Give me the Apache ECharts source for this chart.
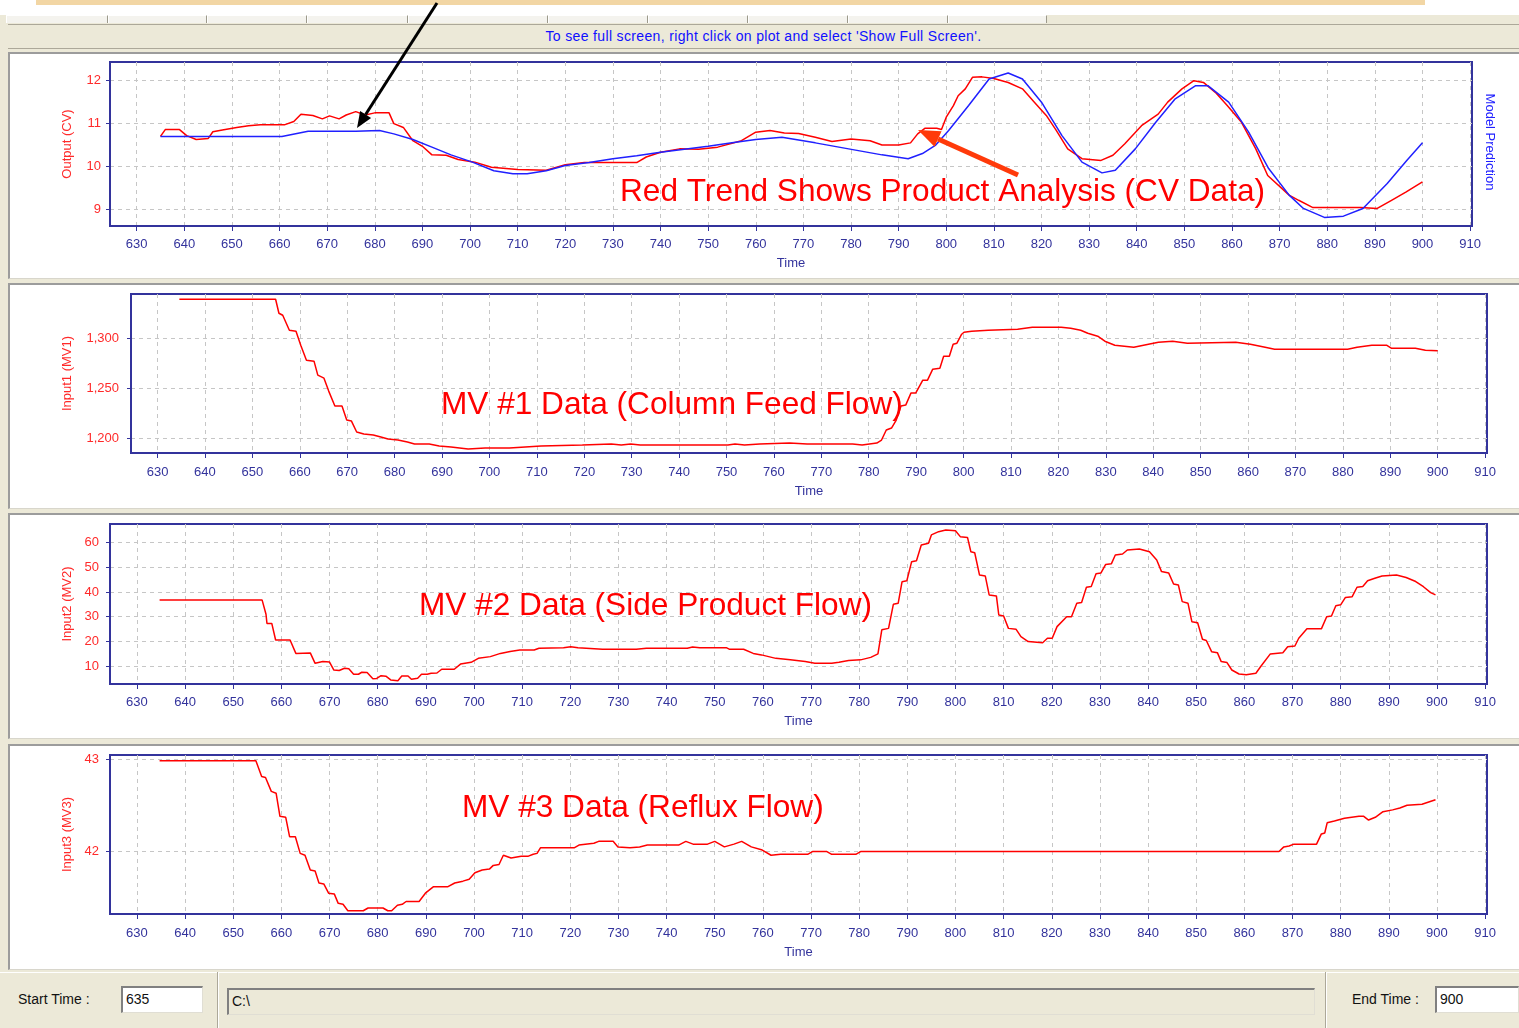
<!DOCTYPE html>
<html>
<head>
<meta charset="utf-8">
<title>Column trends</title>
<script src="https://cdn.jsdelivr.net/npm/echarts@6/dist/echarts.min.js"></script>
<style>
html, body { margin: 0; padding: 0; width: 1519px; height: 1028px; overflow: hidden; background: #ece9d8; font-family: "Liberation Sans", Arial, sans-serif; }
.abs { position: absolute; box-sizing: border-box; }
#topWhite { left: 0; top: 0; width: 1519px; height: 15px; background: #fff; }
#tanBar { left: 36px; top: 0; width: 1389px; height: 5px; background: #f2d6a4; }
.tab { top: 15px; height: 8px; background: #f4f3ee; border-left: 1px solid #fff; border-right: 1px solid #9c9a8c; border-top: 1px solid #fff; }
#status { left: 8px; top: 24px; width: 1511px; height: 25px; border-top: 1px solid #aca899; border-bottom: 1px solid #aca899; color: #1010ff; font-size: 14px; letter-spacing: 0.35px; line-height: 23px; text-align: center; padding-left: 0; }
.panel { left: 8px; width: 1511px; background: #fff; border-left: 2px solid #9c9c9c; border-top: 2px solid #9c9c9c; border-bottom: 1px solid #d8d6cc; }
#bottom { left: 0; top: 972px; width: 1519px; height: 56px; border-top: 1px solid #fff; }
.lbl { font-size: 14px; color: #111; }
.box { background: #fff; border-top: 2px solid #808080; border-left: 2px solid #808080; border-bottom: 1px solid #e0ded4; border-right: 1px solid #e0ded4; font-size: 14px; line-height: 22px; padding-left: 3px; color: #111; }
.sep { top: 972px; width: 2px; height: 56px; border-left: 1px solid #aca899; border-right: 1px solid #fff; }
#chart { left: 0; top: 0; width: 1519px; height: 1028px; }
</style>
</head>
<body>
<div class="abs" id="topWhite"></div>
<div class="abs" id="tanBar"></div>
<div class="abs tab" style="left:6px;width:102px"></div>
<div class="abs tab" style="left:108px;width:99px"></div>
<div class="abs tab" style="left:207px;width:100px"></div>
<div class="abs tab" style="left:307px;width:101px"></div>
<div class="abs tab" style="left:408px;width:140px"></div>
<div class="abs tab" style="left:548px;width:100px"></div>
<div class="abs tab" style="left:648px;width:100px"></div>
<div class="abs tab" style="left:748px;width:100px"></div>
<div class="abs tab" style="left:848px;width:100px"></div>
<div class="abs tab" style="left:948px;width:99px"></div>
<div class="abs" id="status">To see full screen, right click on plot and select 'Show Full Screen'.</div>
<div class="abs panel" style="top:52px;height:227px"></div>
<div class="abs panel" style="top:283px;height:226px"></div>
<div class="abs panel" style="top:513px;height:226px"></div>
<div class="abs panel" style="top:744px;height:226px"></div>
<div class="abs" id="bottom"></div>
<div class="abs lbl" style="left:18px;top:991px">Start Time :</div>
<div class="abs box" style="left:121px;top:986px;width:82px;height:27px">635</div>
<div class="abs sep" style="left:217px"></div>
<div class="abs box" style="left:227px;top:988px;width:1088px;height:27px;background:#ece9d8">C:\</div>
<div class="abs sep" style="left:1325px"></div>
<div class="abs lbl" style="left:1352px;top:991px">End Time :</div>
<div class="abs box" style="left:1435px;top:986px;width:84px;height:27px">900</div>
<div class="abs" id="chart"></div>
<script>
// tick labels
const timeTicks = [630, 640, 650, 660, 670, 680, 690, 700, 710, 720, 730, 740, 750, 760, 770,
    780, 790, 800, 810, 820, 830, 840, 850, 860, 870, 880, 890, 900, 910]
const cvTicks = [9, 10, 11, 12]
const mv1Ticks = [1200, 1250, 1300]
const mv2Ticks = [10, 20, 30, 40, 50, 60]
const mv3Ticks = [42, 43]

// CV: product analysis (red) and model prediction (blue)
const cvMeasured = [[635, 10.70], [636, 10.86], [639, 10.86], [640.5, 10.72], [642.5, 10.63], [645, 10.65],
    [646, 10.81], [648, 10.85], [651, 10.91], [653.5, 10.95], [656, 10.97], [661, 10.97], [663, 11.05],
    [664.5, 11.22], [667, 11.19], [669, 11.11], [670.5, 11.18], [672.5, 11.11], [674, 11.20], [676, 11.28],
    [678, 11.20], [680, 11.25], [683, 11.25], [684, 11.0], [686, 10.91], [688, 10.60], [690, 10.47],
    [692, 10.27], [695, 10.26], [697.5, 10.16], [701, 10.10], [704.5, 9.98], [710, 9.93], [716, 9.91],
    [720, 10.04], [724, 10.09], [735, 10.09], [737, 10.22], [740, 10.33], [744, 10.41], [748, 10.40],
    [752, 10.45], [757, 10.60], [760, 10.80], [763, 10.84], [766, 10.78], [769, 10.77], [772.5, 10.68],
    [776, 10.58], [780, 10.64], [784, 10.60], [786.5, 10.50], [790, 10.50], [792.5, 10.55], [794, 10.76],
    [795.5, 10.89], [798, 10.89], [799, 10.86], [800, 11.15], [801.5, 11.42], [802.5, 11.65], [804, 11.81],
    [805.5, 12.08], [807.5, 12.09], [810, 12.05], [813, 11.96], [816, 11.81], [818.5, 11.50], [821, 11.19],
    [823, 10.86], [825.5, 10.41], [828.5, 10.18], [832.5, 10.14], [835, 10.26], [837.5, 10.53], [841, 10.95],
    [844.5, 11.22], [846.5, 11.50], [849.5, 11.81], [852, 12.0], [854, 11.96], [856.5, 11.73], [859, 11.42],
    [862, 11.03], [865, 10.41], [867.5, 9.79], [872, 9.33], [874, 9.21], [877, 9.04], [887, 9.04],
    [890.5, 9.02], [893.5, 9.21], [896.5, 9.40], [900, 9.64]]
const cvPredicted = [[635, 10.70], [660.5, 10.70], [666, 10.82], [676, 10.82], [681, 10.84], [684, 10.76],
    [688, 10.63], [692, 10.45], [696, 10.27], [700.5, 10.10], [705, 9.90], [709, 9.83], [712, 9.83],
    [716, 9.90], [720, 10.02], [725, 10.09], [730, 10.18], [735, 10.25], [740, 10.33], [745, 10.40],
    [750, 10.47], [755, 10.55], [760, 10.63], [765.5, 10.68], [772.5, 10.55], [779.5, 10.41], [786.5, 10.27],
    [792, 10.18], [795, 10.30], [797.7, 10.49], [800.5, 10.84], [804.7, 11.42], [809, 12.04], [813, 12.18],
    [816, 12.04], [820, 11.50], [824.3, 10.72], [828.5, 10.10], [832.7, 9.85], [835.5, 9.91], [839.7, 10.41],
    [844, 11.03], [848, 11.57], [852.3, 11.88], [855, 11.88], [859.3, 11.50], [863.5, 10.80], [867.7, 9.95],
    [872, 9.33], [875, 9.02], [879.4, 8.81], [883.4, 8.84], [887.5, 9.02], [892.6, 9.60], [896.7, 10.14],
    [900, 10.55]]

// MV1: column feed flow
const mv1Flow = [[634.6, 1339], [654.9, 1339], [655.6, 1325], [656.4, 1323], [657.8, 1308], [659.2, 1307],
    [660.2, 1293], [661.4, 1278], [663, 1277], [663.8, 1263], [665.1, 1260], [666.1, 1247], [667.4, 1232],
    [668.9, 1232], [669.9, 1218], [670.9, 1217], [672, 1206], [673.5, 1204], [675.5, 1203], [677.1, 1201],
    [678.6, 1199], [680.7, 1198], [682.7, 1196], [684.2, 1194], [687.3, 1194], [689.4, 1192], [691.9, 1191],
    [695.5, 1189], [699.1, 1190], [704.2, 1190], [710.9, 1192], [719.6, 1193], [725.7, 1194], [727.8, 1193],
    [729.8, 1194], [731.8, 1193], [750.3, 1193], [751.8, 1194], [753.8, 1193], [757, 1194], [763.3, 1195],
    [767, 1194], [776.6, 1194], [778.6, 1193], [781.7, 1195], [782.7, 1198], [783.7, 1208], [784.8, 1210],
    [785.8, 1218], [786.8, 1232], [787.8, 1233], [788.9, 1245], [789.9, 1245], [791.4, 1258], [792.4, 1258],
    [793.5, 1269], [795, 1270], [795.8, 1282], [797, 1282], [797.8, 1294], [798.6, 1295], [799.6, 1304],
    [800.1, 1306], [801.7, 1307], [805.2, 1308], [811.4, 1309], [814.5, 1311], [820.6, 1311], [822.6, 1310],
    [824.7, 1308], [826.2, 1305], [828.3, 1302], [829.8, 1297], [831.9, 1293], [835.9, 1291], [839, 1294],
    [841.1, 1296], [844.1, 1297], [847.2, 1295], [857.4, 1296], [860.5, 1294], [863.6, 1291], [865.6, 1289],
    [881, 1289], [883, 1291], [886.1, 1293], [889.2, 1293], [890.2, 1290], [895.3, 1290], [897.4, 1288],
    [900, 1287.5]]

// MV2: side product flow
const mv2Flow = [[634.7, 36.7], [656, 36.7], [656.8, 31], [657, 27.3], [658, 27.3], [658.8, 20.6], [661.8, 20.6],
    [663, 15.2], [666, 15.4], [667, 11.2], [668.6, 11.9], [670, 11.7], [670.9, 8.5], [672, 8.3], [673.1, 9.2],
    [674, 9.0], [675, 6.8], [676, 6.8], [676.7, 7.6], [677.8, 7.5], [679, 5.0], [679.8, 5.1], [680.7, 6.2],
    [681.7, 6.0], [682.7, 4.5], [684.2, 4.2], [685, 6.1], [686.3, 6.1], [687, 4.8], [688.3, 5.2], [689.1, 6.8],
    [690.3, 6.8], [691.1, 7.2], [692.3, 7.3], [693.3, 8.8], [695.9, 8.8], [697.2, 10.9], [699.4, 11.6],
    [700.9, 13.2], [703.4, 13.9], [705.5, 15.2], [707.5, 16.0], [709.5, 16.6], [712.5, 16.6], [713.5, 17.3],
    [718.6, 17.5], [720.1, 17.9], [721.6, 17.5], [726.7, 16.9], [733.7, 16.9], [735.8, 17.3], [744.3, 17.3],
    [745.4, 17.8], [746.9, 17.5], [752.4, 17.5], [753, 16.9], [756, 16.9], [758, 15.2], [759.7, 14.6],
    [762.7, 13.2], [765.7, 12.6], [768.8, 11.9], [770.8, 11.2], [774.3, 11.2], [775.8, 11.6], [777.8, 12.3],
    [780.3, 12.6], [782.4, 13.6], [783.9, 15.0], [784.7, 24.7], [786.1, 25.3], [787.1, 35.0], [788.1, 35.4],
    [788.9, 44.1], [789.9, 44.5], [790.9, 52.2], [791.9, 52.6], [792.9, 58.9], [794.4, 59.6], [795, 63],
    [796.5, 64.3], [798, 65], [800, 64.7], [801, 62.3], [802.5, 62.0], [803.2, 56.2], [804, 55.8], [805, 46.8],
    [806.2, 46.4], [807, 38.8], [808.5, 38.4], [809, 30.7], [810, 30.3], [811, 25.3], [812.6, 24.9], [813.6, 22],
    [815.1, 20], [818.1, 19.5], [819.1, 21.3], [820.1, 21.3], [821.1, 26], [823.1, 30.0], [824.1, 30.0],
    [825.2, 35.4], [826.2, 35.7], [827.2, 41.9], [828.2, 42.2], [829.2, 47.3], [830.2, 47.6], [831.2, 51.1],
    [832.4, 51.4], [833.2, 54.9], [834.7, 55.3], [835.7, 56.9], [838.2, 57.3], [840.3, 56.2], [841.8, 52.9],
    [842.8, 48.2], [844.3, 47.6], [845.3, 43.2], [846.3, 42.8], [847.1, 36.1], [848.3, 35.4], [849.1, 28],
    [850.3, 27.6], [851.3, 20.9], [852.1, 20.4], [853.2, 15.9], [854.4, 15.5], [855.2, 11.9], [856.4, 11.5],
    [857.4, 8.5], [858.9, 6.9], [860.4, 6.6], [862.4, 7.2], [863.4, 9.9], [865.4, 15], [868, 15.5], [869, 17.9],
    [870.5, 18.2], [871.3, 21.3], [873, 25.1], [876, 25.1], [877.1, 30], [878.1, 30.3], [879, 34.4], [880, 34.8],
    [881, 37.8], [882.4, 38.1], [883.4, 41.9], [884.6, 42.2], [885.6, 44.5], [887.1, 45.5], [888.6, 46.4],
    [891.6, 46.8], [893.6, 45.8], [895.6, 44.2], [897.2, 42.1], [898.7, 39.7], [899.7, 38.8]]

// MV3: reflux flow
const mv3Flow = [[634.7, 42.98], [654.7, 42.98], [655.9, 42.81], [656.7, 42.80], [657.9, 42.65], [658.9, 42.63],
    [659.7, 42.38], [660.9, 42.37], [661.7, 42.16], [662.9, 42.16], [663.9, 41.98], [664.9, 41.96], [666, 41.80],
    [667, 41.79], [667.8, 41.66], [668.8, 41.65], [669.8, 41.55], [671, 41.54], [671.8, 41.44], [672.8, 41.43],
    [673.8, 41.36], [677, 41.36], [678, 41.39], [681.1, 41.39], [682.1, 41.36], [682.9, 41.36], [684.1, 41.42],
    [685.1, 41.43], [685.9, 41.46], [688.6, 41.46], [689.9, 41.55], [691.6, 41.62], [694.6, 41.62], [696, 41.66],
    [697.7, 41.68], [699, 41.70], [700.2, 41.77], [701.7, 41.80], [703.2, 41.81], [704, 41.85], [705.2, 41.86],
    [706.1, 41.96], [707.7, 41.93], [709.8, 41.95], [711.3, 41.95], [712.3, 41.97], [713.1, 41.98], [713.8, 42.04],
    [720.8, 42.04], [721.8, 42.07], [724.9, 42.09], [725.9, 42.11], [728.9, 42.11], [729.9, 42.05], [732.4, 42.04],
    [734.4, 42.05], [736, 42.07], [742.5, 42.07], [744, 42.11], [745.5, 42.08], [748.5, 42.08], [750, 42.11],
    [752, 42.05], [754, 42.08], [755.6, 42.11], [757.6, 42.05], [759.7, 42.02], [761.7, 41.96], [763.7, 41.97],
    [769.3, 41.97], [770.3, 42.0], [773.3, 42.0], [774.3, 41.97], [779.3, 41.97], [780.3, 42.0], [867.2, 42.0],
    [868.2, 42.05], [869.3, 42.06], [870.3, 42.08], [875, 42.08], [876, 42.19], [876.7, 42.20], [877.2, 42.31],
    [878.7, 42.33], [880.8, 42.36], [883.8, 42.38], [884.8, 42.38], [885.8, 42.34], [887.2, 42.37], [888.8, 42.43],
    [890.8, 42.45], [892.3, 42.47], [893.8, 42.50], [896.9, 42.51], [899.7, 42.56]]

const navy = '#33339c'
const red = '#ff0000'
const labelRed = '#ff2a2a'
const dashed = { show: true, lineStyle: { color: '#c6c6c6', type: [4, 4], width: 1 } }

function timeAxis(idx, margin, gap) {
    return {
        type: 'value', gridIndex: idx, min: 624.4, max: 910.4,
        name: 'Time', nameLocation: 'middle', nameGap: gap,
        nameTextStyle: { color: navy, fontSize: 13, fontFamily: 'Liberation Sans' },
        axisLine: { show: true, onZero: false, lineStyle: { color: navy, width: 2 } },
        axisTick: { show: true, length: 5, customValues: timeTicks, lineStyle: { color: navy } },
        axisLabel: { customValues: timeTicks, color: navy, fontSize: 13, margin: margin, fontFamily: 'Liberation Sans' },
        splitLine: dashed
    }
}
function valueAxis(idx, name, min, max, ticks, margin, gap, fmt) {
    return {
        type: 'value', gridIndex: idx, min: min, max: max,
        name: name, nameLocation: 'middle', nameGap: gap,
        nameTextStyle: { color: labelRed, fontSize: 13, fontFamily: 'Liberation Sans' },
        axisLine: { show: true, onZero: false, lineStyle: { color: navy, width: 2 } },
        axisTick: { show: true, length: 4, customValues: ticks, lineStyle: { color: navy } },
        axisLabel: { customValues: ticks, color: labelRed, fontSize: 13, margin: margin, fontFamily: 'Liberation Sans', formatter: fmt },
        splitLine: dashed
    }
}
function arrow(x1, y1, x2, y2, w, color, headLen, headW) {
    const a = Math.atan2(y2 - y1, x2 - x1)
    const bx = x2 - headLen * Math.cos(a), by = y2 - headLen * Math.sin(a)
    const px = -Math.sin(a) * headW / 2, py = Math.cos(a) * headW / 2
    return [
        { type: 'line', shape: { x1: x1, y1: y1, x2: bx, y2: by }, style: { stroke: color, lineWidth: w }, z: 100 },
        { type: 'polygon', shape: { points: [[x2, y2], [bx + px, by + py], [bx - px, by - py]] }, style: { fill: color }, z: 100 }
    ]
}
function note(text, x, y) {
    return { type: 'text', x: x, y: y, z: 100, style: { text: text, fill: red, font: '31.6px "Liberation Sans", Arial', verticalAlign: 'middle' } }
}

const chart = echarts.init(document.getElementById('chart'))
chart.setOption({
    backgroundColor: 'transparent',
    animation: false,
    grid: [
        { left: 110, top: 62, width: 1362, height: 164, show: true, borderColor: navy, borderWidth: 2 },
        { left: 131, top: 294, width: 1356, height: 159, show: true, borderColor: navy, borderWidth: 2 },
        { left: 110, top: 524, width: 1377, height: 160, show: true, borderColor: navy, borderWidth: 2 },
        { left: 110, top: 755, width: 1377, height: 159, show: true, borderColor: navy, borderWidth: 2 }
    ],
    xAxis: [timeAxis(0, 12, 31), timeAxis(1, 13, 32), timeAxis(2, 12, 31), timeAxis(3, 13, 32)],
    yAxis: [
        valueAxis(0, 'Output (CV)', 8.61, 12.437, cvTicks, 9, 36),
        valueAxis(1, 'Input1 (MV1)', 1185, 1344.3, mv1Ticks, 12, 57, v => v.toLocaleString('en-US')),
        valueAxis(2, 'Input2 (MV2)', 2.86, 67.4, mv2Ticks, 11, 36),
        valueAxis(3, 'Input3 (MV3)', 41.325, 43.043, mv3Ticks, 11, 36)
    ],
    series: [
        { name: 'Product Analysis', type: 'line', xAxisIndex: 0, yAxisIndex: 0, data: cvMeasured, showSymbol: false, lineStyle: { color: red, width: 1.5 }, z: 3 },
        { name: 'Model Prediction', type: 'line', xAxisIndex: 0, yAxisIndex: 0, data: cvPredicted, showSymbol: false, lineStyle: { color: '#2020ff', width: 1.5 }, z: 4 },
        { name: 'MV1', type: 'line', xAxisIndex: 1, yAxisIndex: 1, data: mv1Flow, showSymbol: false, lineStyle: { color: red, width: 1.5 } },
        { name: 'MV2', type: 'line', xAxisIndex: 2, yAxisIndex: 2, data: mv2Flow, showSymbol: false, lineStyle: { color: red, width: 1.5 } },
        { name: 'MV3', type: 'line', xAxisIndex: 3, yAxisIndex: 3, data: mv3Flow, showSymbol: false, lineStyle: { color: red, width: 1.5 } }
    ],
    graphic: [
        { type: 'text', x: 1490, y: 142, rotation: -Math.PI / 2, z: 100,
            style: { text: 'Model Prediction', fill: '#2020ff', font: '13px "Liberation Sans", Arial', align: 'center', verticalAlign: 'middle' } },
        note('Red Trend Shows Product Analysis (CV Data)', 620, 192),
        note('MV #1 Data (Column Feed Flow)', 441, 405),
        note('MV #2 Data (Side Product Flow)', 419, 606),
        note('MV #3 Data (Reflux Flow)', 462, 808),
        ...arrow(437, 3, 357, 128, 3, '#000000', 16, 13),
        ...arrow(1018, 175, 918, 130, 5, '#ff3a0a', 22, 17)
    ]
})
</script>
</body>
</html>
